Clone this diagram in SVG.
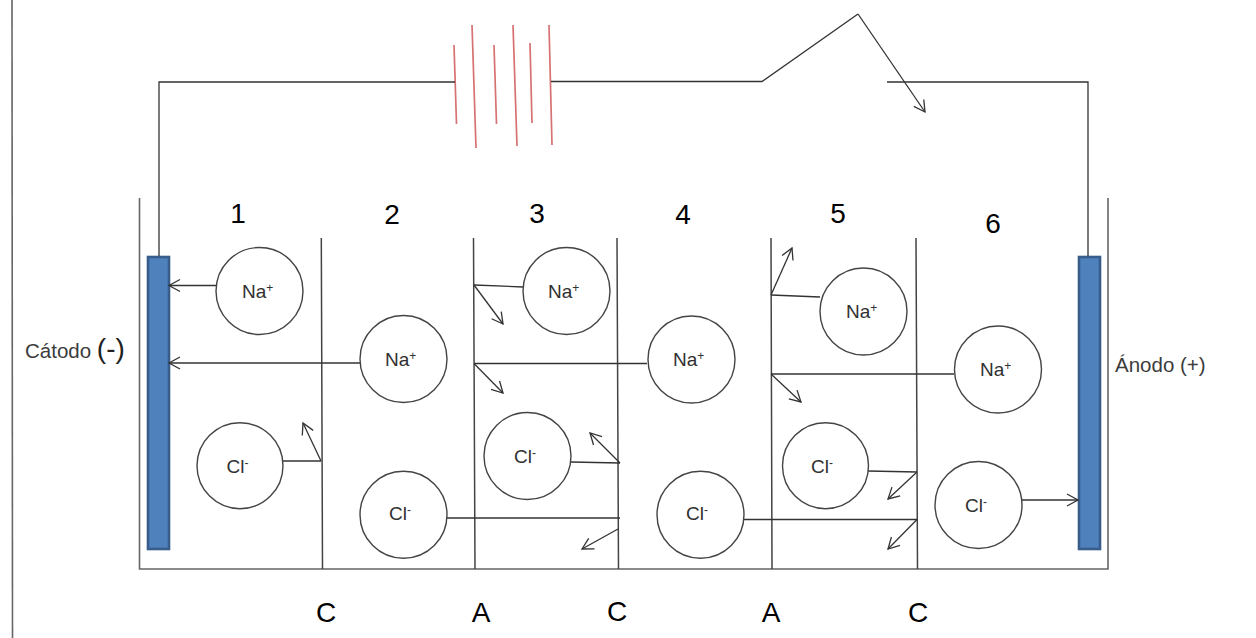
<svg xmlns="http://www.w3.org/2000/svg" width="1256" height="638" viewBox="0 0 1256 638">
<style>
.wire{fill:none;stroke:#333;stroke-width:1.3}
.arrow{marker-end:url(#open)}
.frame{fill:none;stroke:#666;stroke-width:1.6}
.div{fill:none;stroke:#444;stroke-width:1.5}
.cell{fill:none;stroke:#d67272;stroke-width:1.7}
.ion circle{fill:#fff;stroke:#444;stroke-width:1.4}
.electrode{fill:#4f81bd;stroke:#385d8a;stroke-width:2.6}
text{font-family:"Liberation Sans",Arial,sans-serif;fill:#222}
.ion text{font-size:19px;fill:#303030}
.num{font-size:28px;fill:#000;text-anchor:middle}
.side{font-size:20.500px;fill:#3c3c3c}
.s{font-size:12px}
</style>
<defs>
<marker id="open" markerUnits="userSpaceOnUse" markerWidth="16" markerHeight="16" refX="12" refY="7" orient="auto" overflow="visible">
<path d="M1 1 L12 7 L1 13" fill="none" stroke="#333" stroke-width="1.3"/>
</marker>
</defs>
<rect width="1256" height="638" fill="#fff"/>
<line class="frame" x1="12" y1="0" x2="12.500" y2="638"/>
<g id="tank">
<path class="frame" d="M139.500 198V569H1108V198"/>
<path class="div" d="M321.300 238L322.500 569M473.500 238L475 569M617 238L618.500 569M771 238L772 569M916 238L917.500 569"/>
</g>
<g id="battery">
<path class="cell" d="M454 45L456.500 124M472 25L476 148M494 45L496.500 124M513 25L517 146M530 43L532 123M549 25L552 145"/>
</g>
<g id="cathode"><rect class="electrode" x="148" y="257" width="21" height="292"/></g>
<g id="anode"><rect class="electrode" x="1079" y="257" width="21" height="292"/></g>
<g id="connectors">
<path class="wire" d="M159 256V82H455M551 81.500H762L858 14"/>
<path class="wire arrow" d="M858 14L925 112"/>
<path class="wire" d="M887 82H1088V256"/>
<path class="wire arrow" d="M216 285.500H169"/>
<path class="wire arrow" d="M360 363H169"/>
<path class="wire" d="M523 287L474 285"/>
<path class="wire arrow" d="M474 285L503 324"/>
<path class="wire" d="M647 363.500H474"/>
<path class="wire arrow" d="M474 363.500L503 393"/>
<path class="wire" d="M820 297L771 295"/>
<path class="wire arrow" d="M771 295L792 248"/>
<path class="wire" d="M954 374H771"/>
<path class="wire arrow" d="M771 374L801 402"/>
<path class="wire" d="M283 461H321"/>
<path class="wire arrow" d="M321 461L303 423"/>
<path class="wire" d="M447 518H620"/>
<path class="wire arrow" d="M618 529L582 549"/>
<path class="wire" d="M571 462L620 463"/>
<path class="wire arrow" d="M620 463L590 433"/>
<path class="wire" d="M744 519.500H917"/>
<path class="wire arrow" d="M917 519.500L888 549"/>
<path class="wire" d="M868 471L917 472"/>
<path class="wire arrow" d="M917 472L888 499"/>
<path class="wire arrow" d="M1022 500H1078"/>
</g>
<g id="na1" class="ion"><circle cx="259.500" cy="291" r="43.500"/><text x="242" y="298">Na<tspan class="s" dy="-6">+</tspan></text></g>
<g id="na2" class="ion"><circle cx="403.500" cy="359" r="43.500"/><text x="385" y="366">Na<tspan class="s" dy="-6">+</tspan></text></g>
<g id="na3" class="ion"><circle cx="566.500" cy="291" r="43.500"/><text x="548" y="298">Na<tspan class="s" dy="-6">+</tspan></text></g>
<g id="na4" class="ion"><circle cx="691.500" cy="359.500" r="43.500"/><text x="673" y="366">Na<tspan class="s" dy="-6">+</tspan></text></g>
<g id="na5" class="ion"><circle cx="863.500" cy="311.500" r="43.500"/><text x="846" y="318">Na<tspan class="s" dy="-6">+</tspan></text></g>
<g id="na6" class="ion"><circle cx="998" cy="369.500" r="43.500"/><text x="980" y="376">Na<tspan class="s" dy="-6">+</tspan></text></g>
<g id="cl1" class="ion"><circle cx="240" cy="465.700" r="43"/><text x="226.500" y="473">Cl<tspan class="s" dy="-6">-</tspan></text></g>
<g id="cl2" class="ion"><circle cx="403.500" cy="514.700" r="43.500"/><text x="389" y="520">Cl<tspan class="s" dy="-6">-</tspan></text></g>
<g id="cl3" class="ion"><circle cx="527.500" cy="456" r="43.500"/><text x="514" y="463">Cl<tspan class="s" dy="-6">-</tspan></text></g>
<g id="cl4" class="ion"><circle cx="700.500" cy="514.700" r="43.500"/><text x="686" y="520">Cl<tspan class="s" dy="-6">-</tspan></text></g>
<g id="cl5" class="ion"><circle cx="825.500" cy="465.700" r="43"/><text x="811" y="473">Cl<tspan class="s" dy="-6">-</tspan></text></g>
<g id="cl6" class="ion"><circle cx="978.500" cy="505" r="43.500"/><text x="965" y="512">Cl<tspan class="s" dy="-6">-</tspan></text></g>
<g id="labels">
<text class="num" x="238" y="223">1</text>
<text class="num" x="392" y="224">2</text>
<text class="num" x="537" y="223">3</text>
<text class="num" x="683" y="224">4</text>
<text class="num" x="838" y="223">5</text>
<text class="num" x="993" y="233">6</text>
<text class="num" x="326" y="622">C</text>
<text class="num" x="481" y="622">A</text>
<text class="num" x="617" y="621">C</text>
<text class="num" x="771" y="622">A</text>
<text class="num" x="918" y="622">C</text>
<text class="side" x="25" y="358">Cátodo <tspan font-size="28" fill="#222">(-)</tspan></text>
<text class="side" x="1115" y="371.500">Ánodo (+)</text>
</g>
</svg>
